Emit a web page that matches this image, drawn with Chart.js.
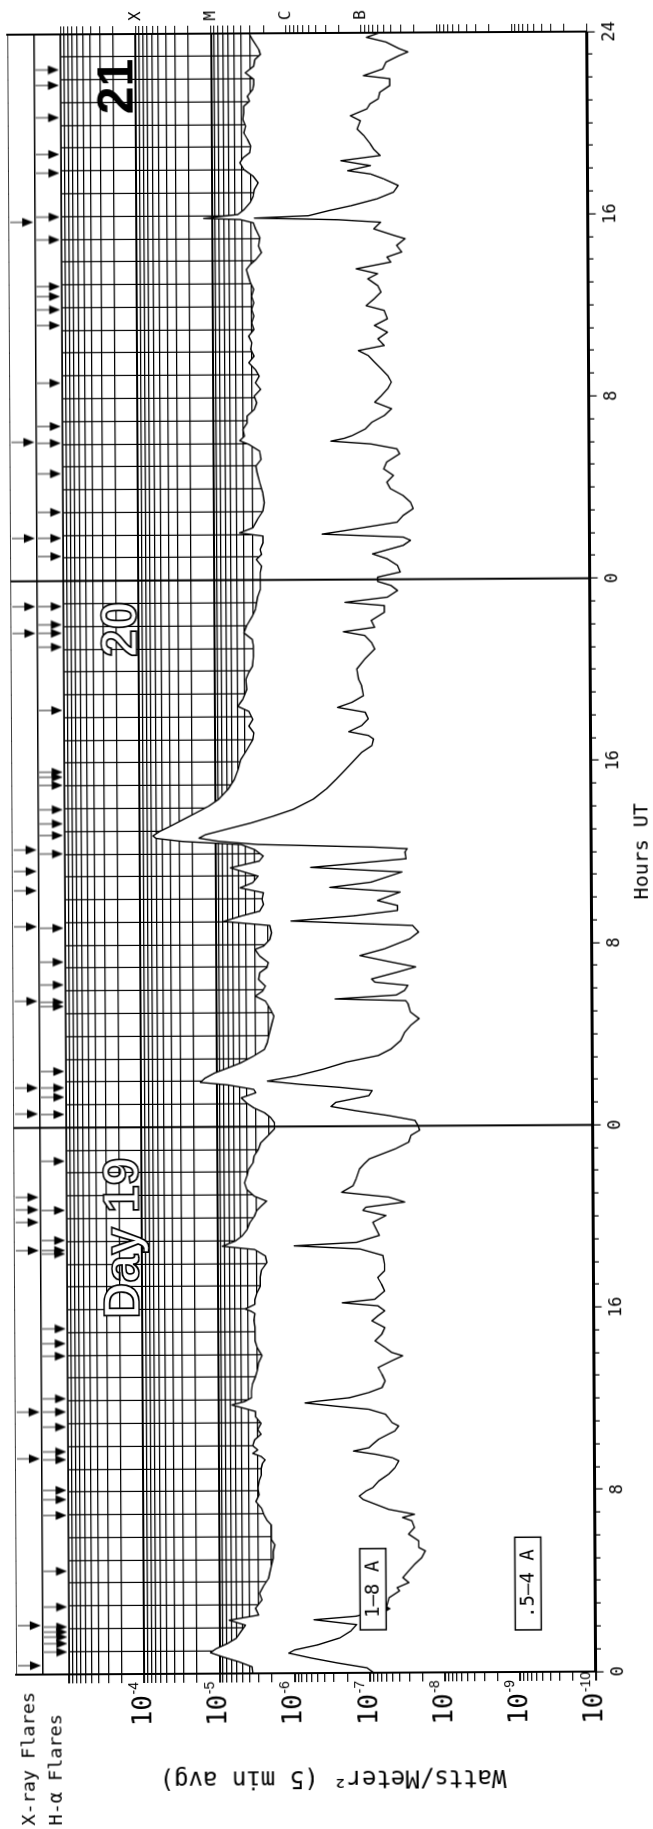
<!DOCTYPE html>
<html>
<head>
<meta charset="utf-8">
<title>GOES X-ray flux, days 19-21</title>
<script src="https://cdn.jsdelivr.net/npm/chart.js@4.4.1/dist/chart.umd.min.js"></script>
<style>
  html, body { margin: 0; padding: 0; background: #fff; }
  body { width: 653px; height: 1829px; overflow: hidden; position: relative; }
  /* the sheet is printed slightly askew */
  #sheet { position: absolute; left: 0; top: 0; width: 653px; height: 1829px;
           transform-origin: 326.5px 914.5px; transform: rotate(-0.31deg); }
  /* the plot is laid out landscape and turned onto the portrait page */
  #plate { position: absolute; left: 0; top: 0; width: 1829px; height: 653px;
           transform-origin: 0 0; transform: translateY(1829px) rotate(-90deg); }
  canvas { display: block; }
</style>
</head>
<body>
<div id="sheet"><div id="plate"><canvas id="goes" width="1829" height="653"></canvas></div></div>
<script>
// Hours are counted from 00 UT on day 19 (0 .. 72).

// 1-8 Angstrom channel, W/m^2
const longHours = [
  0.00, 0.29, 0.51, 0.73, 0.92, 1.10, 1.32, 1.54, 1.83, 2.12,
  2.34, 2.56, 2.86, 3.22, 3.51, 3.81, 4.17, 4.47, 4.76, 5.05,
  5.34, 5.64, 5.86, 6.22, 6.51, 6.73, 6.95, 7.25, 7.54, 7.83,
  8.13, 8.42, 8.71, 9.00, 9.22, 9.37, 9.52, 9.66, 9.81, 10.00,
  10.25, 10.50, 10.70, 10.98, 11.27, 11.50, 11.64, 11.79, 11.93, 12.10,
  12.40, 12.70, 13.00, 13.30, 13.60, 13.95, 14.30, 14.60, 14.90, 15.20,
  15.50, 15.80, 15.90, 16.00, 16.20, 16.40, 16.70, 17.00, 17.40, 17.70,
  18.03, 18.32, 18.61, 18.76, 18.98, 19.20, 19.49, 19.78, 20.07, 20.30,
  20.51, 20.73, 20.95, 21.24, 21.54, 21.83, 22.12, 22.42, 22.71, 23.00,
  23.29, 23.59, 23.91, 24.17, 24.39, 24.61, 24.83, 25.05, 25.27, 25.49,
  25.64, 25.84, 25.96, 26.15, 26.37, 26.59, 26.81, 27.10, 27.39, 27.68,
  27.98, 28.27, 28.56, 28.85, 29.15, 29.51, 29.73, 29.95, 30.17, 30.46,
  30.76, 30.98, 31.20, 31.49, 31.78, 31.93, 32.22, 32.51, 32.83, 33.02,
  33.24, 33.46, 33.76, 33.98, 34.27, 34.49, 34.71, 35.00, 35.37, 35.66,
  35.88, 36.17, 36.39, 36.54, 36.68, 36.79, 36.98, 37.20, 37.49, 37.78,
  38.08, 38.37, 38.81, 39.25, 39.68, 40.12, 40.56, 41.00, 41.29, 41.59,
  41.88, 42.24, 42.46, 42.76, 43.20, 43.64, 43.93, 44.22, 44.66, 45.10,
  45.39, 45.68, 45.98, 46.41, 46.71, 47.00, 47.29, 47.59, 47.91, 48.32,
  48.61, 48.90, 49.12, 49.34, 49.63, 49.93, 50.07, 50.29, 50.66, 51.02,
  51.39, 51.83, 52.27, 52.71, 53.00, 53.29, 53.66, 53.95, 54.12, 54.32,
  54.61, 54.90, 55.20, 55.49, 55.78, 56.07, 56.37, 56.66, 56.95, 57.24,
  57.54, 57.83, 58.12, 58.42, 58.71, 59.00, 59.29, 59.59, 59.88, 60.17,
  60.46, 60.76, 61.05, 61.34, 61.63, 61.85, 62.07, 62.37, 62.66, 63.02,
  63.39, 63.68, 63.83, 63.89, 64.05, 64.27, 64.56, 64.85, 65.15, 65.44,
  65.73, 66.02, 66.32, 66.54, 66.76, 67.05, 67.34, 67.63, 67.93, 68.22,
  68.51, 68.80, 69.02, 69.24, 69.54, 69.76, 69.98, 70.27, 70.56, 70.85,
  71.07, 71.29, 71.73, 72.00
];
const longFlux = [
  3.6e-6, 3.7e-6, 5.5e-6, 9.0e-6, 1.32e-5, 1.10e-5, 7.8e-6, 6.0e-6, 5.2e-6, 4.5e-6,
  7.4e-6, 3.0e-6, 3.3e-6, 2.7e-6, 2.9e-6, 2.6e-6, 2.2e-6, 2.1e-6, 2.0e-6, 1.9e-6,
  1.9e-6, 1.8e-6, 2.0e-6, 2.0e-6, 2.0e-6, 2.3e-6, 2.5e-6, 2.7e-6, 3.2e-6, 2.9e-6,
  3.0e-6, 2.9e-6, 2.7e-6, 2.7e-6, 2.6e-6, 2.4e-6, 2.7e-6, 3.5e-6, 3.0e-6, 3.5e-6,
  3.3e-6, 2.7e-6, 3.0e-6, 2.7e-6, 3.2e-6, 3.2e-6, 4.5e-6, 6.6e-6, 4.5e-6, 3.6e-6,
  3.6e-6, 3.5e-6, 3.2e-6, 3.0e-6, 2.9e-6, 2.6e-6, 3.0e-6, 3.2e-6, 3.2e-6, 3.2e-6,
  3.3e-6, 3.2e-6, 3.6e-6, 4.3e-6, 3.2e-6, 3.2e-6, 3.0e-6, 2.7e-6, 2.7e-6, 2.6e-6,
  2.2e-6, 2.3e-6, 3.2e-6, 8.6e-6, 5.8e-6, 4.7e-6, 4.0e-6, 3.7e-6, 3.2e-6, 3.0e-6,
  2.6e-6, 2.2e-6, 3.2e-6, 4.0e-6, 4.3e-6, 4.0e-6, 3.8e-6, 3.3e-6, 3.2e-6, 2.8e-6,
  2.6e-6, 2.1e-6, 1.7e-6, 1.7e-6, 1.9e-6, 2.3e-6, 3.2e-6, 4.0e-6, 4.7e-6, 3.0e-6,
  3.2e-6, 7.0e-6, 1.64e-5, 1.41e-5, 1.05e-5, 7.0e-6, 4.7e-6, 3.2e-6, 2.3e-6, 2.1e-6,
  2.0e-6, 1.9e-6, 1.8e-6, 1.7e-6, 1.9e-6, 2.2e-6, 3.0e-6, 2.4e-6, 2.2e-6, 2.7e-6,
  2.6e-6, 2.1e-6, 2.0e-6, 2.6e-6, 3.0e-6, 2.3e-6, 1.9e-6, 1.8e-6, 1.9e-6, 7.8e-6,
  4.7e-6, 2.6e-6, 2.3e-6, 2.4e-6, 2.3e-6, 4.7e-6, 3.2e-6, 2.7e-6, 6.3e-6, 2.6e-6,
  2.3e-6, 3.0e-6, 4.5e-6, 2.7e-5, 6.1e-5, 6.7e-5, 5.5e-5, 4.0e-5, 2.7e-5, 1.82e-5,
  1.22e-5, 9.0e-6, 6.7e-6, 5.5e-6, 4.9e-6, 4.5e-6, 3.7e-6, 3.1e-6, 3.0e-6, 3.5e-6,
  3.1e-6, 3.5e-6, 4.9e-6, 4.2e-6, 3.7e-6, 3.8e-6, 3.5e-6, 3.1e-6, 3.0e-6, 3.0e-6,
  3.1e-6, 4.0e-6, 3.7e-6, 3.1e-6, 2.8e-6, 2.7e-6, 2.6e-6, 2.4e-6, 2.4e-6, 2.4e-6,
  2.3e-6, 2.7e-6, 2.3e-6, 2.4e-6, 2.2e-6, 2.2e-6, 4.5e-6, 3.0e-6, 2.6e-6, 2.2e-6,
  2.1e-6, 2.2e-6, 2.4e-6, 2.6e-6, 2.7e-6, 2.3e-6, 2.4e-6, 3.3e-6, 4.4e-6, 3.8e-6,
  4.0e-6, 3.5e-6, 3.5e-6, 2.8e-6, 2.6e-6, 2.8e-6, 2.3e-6, 2.7e-6, 2.4e-6, 2.7e-6,
  3.3e-6, 2.8e-6, 3.1e-6, 3.0e-6, 3.3e-6, 2.8e-6, 3.0e-6, 2.8e-6, 3.0e-6, 2.8e-6,
  3.0e-6, 2.8e-6, 3.1e-6, 3.3e-6, 3.5e-6, 3.1e-6, 2.6e-6, 2.2e-6, 2.4e-6, 2.3e-6,
  2.6e-6, 2.8e-6, 4.2e-6, 1.28e-5, 4.5e-6, 3.7e-6, 3.1e-6, 2.8e-6, 2.7e-6, 2.4e-6,
  2.8e-6, 3.7e-6, 4.2e-6, 3.8e-6, 3.1e-6, 3.0e-6, 3.3e-6, 3.7e-6, 3.5e-6, 3.8e-6,
  3.7e-6, 3.7e-6, 3.1e-6, 3.3e-6, 2.8e-6, 2.7e-6, 2.7e-6, 3.5e-6, 2.7e-6, 2.6e-6,
  2.2e-6, 2.3e-6, 2.8e-6, 3.1e-6
];

// 0.5-4 Angstrom channel, W/m^2
const shortHours = [
  0.00, 0.22, 0.44, 0.66, 0.88, 1.02, 1.24, 1.54, 1.83, 2.12,
  2.34, 2.49, 2.86, 3.29, 3.59, 3.73, 3.95, 4.17, 4.47, 4.76,
  5.05, 5.34, 5.49, 5.78, 6.08, 6.37, 6.66, 6.81, 6.95, 7.17,
  7.39, 7.61, 7.76, 7.98, 8.13, 8.42, 8.71, 9.00, 9.30, 9.44,
  9.59, 9.74, 9.88, 10.03, 10.25, 10.47, 10.61, 10.83, 10.98, 11.20,
  11.35, 11.57, 11.71, 11.86, 11.93, 12.08, 12.30, 12.52, 12.81, 13.10,
  13.40, 13.69, 13.91, 14.06, 14.28, 14.57, 14.86, 15.15, 15.45, 15.67,
  15.89, 16.11, 16.25, 16.40, 16.76, 17.06, 17.35, 17.64, 17.94, 18.32,
  18.61, 18.76, 18.90, 19.20, 19.49, 19.78, 20.07, 20.30, 20.44, 20.66,
  20.88, 21.10, 21.39, 21.68, 22.12, 22.34, 22.56, 23.00, 23.29, 23.59,
  23.81, 24.02, 24.24, 24.46, 24.68, 24.87, 25.05, 25.34, 25.56, 25.71,
  25.85, 26.00, 26.22, 26.51, 26.81, 27.10, 27.39, 27.76, 28.12, 28.41,
  28.71, 29.00, 29.37, 29.50, 29.59, 29.75, 29.95, 30.17, 30.32, 30.46,
  30.76, 30.98, 31.20, 31.49, 31.78, 32.22, 32.51, 32.80, 33.02, 33.24,
  33.46, 33.68, 33.90, 34.27, 34.49, 34.71, 35.15, 35.37, 35.73, 36.03,
  36.17, 36.25, 36.39, 36.54, 36.68, 36.83, 37.05, 37.34, 37.64, 37.93,
  38.37, 38.81, 39.25, 39.68, 40.12, 40.42, 40.71, 41.00, 41.15, 41.32,
  41.59, 41.88, 42.17, 42.39, 42.61, 42.90, 43.34, 43.64, 44.07, 44.51,
  44.95, 45.24, 45.54, 45.71, 45.90, 46.20, 46.56, 46.85, 47.00, 47.22,
  47.51, 47.73, 47.91, 48.10, 48.32, 48.61, 48.90, 49.12, 49.49, 49.71,
  49.85, 50.00, 50.15, 50.51, 50.80, 51.10, 51.39, 51.68, 51.98, 52.27,
  52.56, 52.85, 53.15, 53.51, 53.73, 53.95, 54.08, 54.20, 54.32, 54.61,
  54.90, 55.20, 55.49, 55.78, 56.07, 56.37, 56.66, 56.95, 57.24, 57.54,
  57.83, 58.05, 58.27, 58.56, 58.85, 59.15, 59.44, 59.81, 60.02, 60.32,
  60.61, 60.90, 61.20, 61.42, 61.64, 61.93, 62.15, 62.37, 62.66, 62.95,
  63.10, 63.39, 63.68, 63.80, 63.89, 63.98, 64.20, 64.41, 64.71, 65.00,
  65.29, 65.59, 65.80, 65.95, 66.17, 66.24, 66.39, 66.61, 66.90, 67.12,
  67.49, 67.78, 68.14, 68.36, 68.66, 68.88, 69.10, 69.39, 69.68, 69.98,
  70.12, 70.41, 70.71, 71.00, 71.15, 71.29, 71.59, 71.80, 72.00
];
const shortFlux = [
  8.9e-8, 1.1e-7, 2.7e-7, 6.0e-7, 1.2e-6, 1.0e-6, 4.9e-7, 2.5e-7, 1.8e-7, 1.5e-7,
  5.5e-7, 1.5e-7, 6.0e-8, 5.5e-8, 4.0e-8, 4.3e-8, 3.0e-8, 3.6e-8, 3.0e-8, 2.5e-8,
  2.0e-8, 1.8e-8, 2.2e-8, 2.2e-8, 3.0e-8, 2.5e-8, 2.7e-8, 3.6e-8, 2.5e-8, 5.5e-8,
  8.1e-8, 1.2e-7, 1.35e-7, 1.1e-7, 8.9e-8, 7.4e-8, 5.5e-8, 4.5e-8, 4.0e-8, 4.9e-8,
  8.1e-8, 1.6e-7, 1.0e-7, 8.9e-8, 7.4e-8, 5.5e-8, 4.5e-8, 4.0e-8, 4.9e-8, 5.5e-8,
  6.0e-8, 1.0e-7, 2.7e-7, 7.0e-7, 4.9e-7, 1.8e-7, 1.0e-7, 6.6e-8, 6.0e-8, 6.6e-8,
  7.4e-8, 4.9e-8, 3.5e-8, 4.9e-8, 6.0e-8, 8.1e-8, 6.6e-8, 6.0e-8, 8.9e-8, 7.4e-8,
  6.0e-8, 7.4e-8, 2.2e-7, 8.1e-8, 6.0e-8, 6.6e-8, 7.4e-8, 6.0e-8, 6.0e-8, 6.3e-8,
  1.27e-7, 9.5e-7, 1.41e-7, 7.0e-8, 7.7e-8, 8.5e-8, 5.7e-8, 1.15e-7, 1.05e-7, 3.2e-8,
  5.2e-8, 2.2e-7, 1.55e-7, 1.41e-7, 1.27e-7, 1.1e-7, 9.4e-8, 4.2e-8, 2.8e-8, 2.6e-8,
  2.0e-8, 2.1e-8, 2.3e-8, 5.2e-8, 1.41e-7, 3.0e-7, 2.6e-7, 9.4e-8, 8.5e-8, 2.3e-7,
  7.7e-7, 2.1e-6, 8.6e-7, 3.8e-7, 1.9e-7, 7.0e-8, 4.7e-8, 3.5e-8, 3.1e-8, 2.6e-8,
  2.0e-8, 2.6e-8, 2.8e-8, 3.0e-8, 2.6e-7, 4.0e-8, 3.1e-8, 2.8e-8, 7.7e-8, 8.5e-8,
  3.8e-8, 2.2e-8, 4.7e-8, 1.21e-7, 5.7e-8, 2.6e-8, 2.0e-8, 2.4e-8, 9.9e-7, 1.41e-7,
  3.8e-8, 3.8e-8, 7.0e-8, 3.5e-8, 3.0e-7, 8.5e-8, 3.3e-8, 5.4e-7, 2.9e-8, 3.0e-8,
  2.8e-8, 8.1e-8, 2.7e-6, 9.0e-6, 1.64e-5, 1.35e-5, 7.4e-6, 3.3e-6, 1.64e-6, 9.0e-7,
  4.9e-7, 3.3e-7, 2.4e-7, 1.8e-7, 1.34e-7, 1.1e-7, 8.1e-8, 7.7e-8, 9.0e-8, 1.64e-7,
  1.1e-7, 9.0e-8, 9.9e-8, 2.3e-7, 1.48e-7, 1.04e-7, 1.1e-7, 1.21e-7, 1.27e-7, 9.9e-8,
  7.3e-8, 8.1e-8, 9.9e-8, 1.9e-7, 7.3e-8, 8.1e-8, 5.4e-8, 5.4e-8, 1.8e-7, 4.9e-8,
  3.6e-8, 4.4e-8, 6.6e-8, 6.6e-8, 3.3e-8, 3.6e-8, 4.9e-8, 7.7e-8, 3.0e-8, 2.4e-8,
  3.0e-8, 3.6e-7, 1.8e-7, 3.6e-8, 3.0e-8, 2.2e-8, 2.4e-8, 3.0e-8, 4.4e-8, 4.9e-8,
  4.0e-8, 5.4e-8, 4.9e-8, 3.3e-8, 3.6e-8, 8.0e-8, 2.7e-7, 1.8e-7, 1.41e-7, 9.4e-8,
  7.7e-8, 5.2e-8, 4.2e-8, 7.0e-8, 5.7e-8, 4.7e-8, 4.2e-8, 4.7e-8, 5.7e-8, 7.0e-8,
  8.5e-8, 1.15e-7, 5.2e-8, 6.3e-8, 4.7e-8, 7.0e-8, 4.7e-8, 5.2e-8, 9.0e-8, 7.0e-8,
  5.7e-8, 6.3e-8, 8.5e-8, 6.3e-8, 1.21e-7, 4.2e-8, 4.7e-8, 3.0e-8, 3.5e-8, 2.7e-8,
  3.8e-8, 7.0e-8, 5.7e-8, 2.1e-7, 2.7e-6, 5.2e-7, 2.8e-7, 1.41e-7, 6.3e-8, 3.8e-8,
  3.3e-8, 5.2e-8, 7.7e-8, 1.55e-7, 7.7e-8, 1.04e-7, 1.9e-7, 5.7e-8, 7.0e-8, 7.7e-8,
  9.4e-8, 1.15e-7, 1.04e-7, 1.41e-7, 8.5e-8, 7.7e-8, 6.0e-8, 5.7e-8, 4.2e-8, 4.2e-8,
  9.4e-8, 5.2e-8, 4.7e-8, 3.1e-8, 2.4e-8, 3.1e-8, 4.7e-8, 8.5e-8, 5.7e-8
];

// Reported flare times (hours)
const xrayFlareHours = [
  0.39, 2.15, 9.47, 11.52, 18.61, 19.85, 20.40, 20.95, 24.61, 25.75,
  29.56, 32.83, 34.41, 35.26, 36.20, 45.71, 46.88, 49.88, 54.10, 63.76
];
const haFlareHours = [
  0.98, 1.35, 1.64, 1.86, 2.08, 2.96, 4.53, 6.98, 7.67, 8.08,
  9.42, 9.77, 10.86, 11.52, 12.10, 13.97, 14.52, 15.17, 18.46, 18.61,
  19.05, 20.37, 22.53, 24.58, 25.34, 25.75, 26.47, 29.32, 29.51, 30.27,
  31.27, 32.76, 36.02, 36.83, 37.34, 37.96, 39.03, 39.39, 39.61, 42.32,
  45.10, 45.71, 46.08, 46.88, 49.08, 49.88, 51.02, 52.71, 54.05, 54.79,
  56.69, 59.22, 59.91, 60.49, 60.93, 62.98, 63.98, 65.91, 66.73, 68.34,
  69.76, 70.44
];

const dayStartHours = [24, 48];
const hourTickLabels = ['0', '8', '16', '0', '8', '16', '0', '8', '16', '24'];
const decadeExponents = [-4, -5, -6, -7, -8, -9, -10];
const classNames = ['X', 'M', 'C', 'B'];
const classFlux = [1e-4, 1e-5, 1e-6, 1e-7];
const flareRowNames = ['H-α Flares', 'X-ray Flares'];

const dayTitles = ['Day 19', '20', '21'];
const dayTitleHours = [19.14, 45.87, 69.7];
const dayTitleFlux = [1.93e-4, 1.86e-4, 1.9e-4];

const bandNames = ['1–8 A', '.5–4 A'];
const bandHours = [3.67, 3.88];
const bandFlux = [9.0e-8, 7.8e-10];

const FLUX_MIN = 1e-10, FLUX_MAX = 1e-3, HOURS = 72;
const MONO = '"DejaVu Sans Mono", monospace';
const INK = '#000';

Chart.defaults.font.family = MONO;
Chart.defaults.color = INK;

function toPoints(xs, ys) {
  const n = Math.min(xs.length, ys.length);
  const out = [];
  for (let i = 0; i < n; i++) out.push({ x: xs[i], y: ys[i] });
  return out;
}

// 1..9 x 10^n ticks across the flux range; decades flagged as major
function logTicks() {
  const t = [];
  for (let e = -10; e <= -4; e++) {
    for (let m = 1; m <= 9; m++) t.push({ value: m * Math.pow(10, e), major: m === 1 });
  }
  t.push({ value: FLUX_MAX, major: true });
  return t;
}

// downward flare marker: thin shaft with a solid head
function arrowGlyph() {
  const c = document.createElement('canvas');
  c.width = 10; c.height = 23;
  const g = c.getContext('2d');
  g.strokeStyle = '#222'; g.lineWidth = 1;
  g.beginPath(); g.moveTo(5, 0); g.lineTo(5, 13); g.stroke();
  g.fillStyle = INK;
  g.beginPath(); g.moveTo(0.5, 12); g.lineTo(9.5, 12); g.lineTo(5, 23); g.closePath(); g.fill();
  return c;
}
const arrow = arrowGlyph();

const lineBase = { pointRadius: 0, pointHoverRadius: 0, borderColor: INK, tension: 0, fill: false, borderJoinStyle: 'round' };

const annotations = {
  id: 'annotations',
  afterDatasetsDraw(chart) {
    const { ctx, scales: { x, y } } = chart;
    ctx.save();
    ctx.font = 'bold 50px "Liberation Sans", Arial, sans-serif';
    ctx.textAlign = 'center';
    ctx.textBaseline = 'alphabetic';
    dayTitles.forEach((txt, i) => {
      const px = x.getPixelForValue(dayTitleHours[i]);
      const py = y.getPixelForValue(dayTitleFlux[i]) + 18;
      if (i < 2) {
        ctx.fillStyle = '#fff';
        ctx.fillText(txt, px, py);
        ctx.lineWidth = 1.7;
        ctx.strokeStyle = INK;
        ctx.strokeText(txt, px, py);
      } else {
        ctx.fillStyle = INK;
        ctx.fillText(txt, px, py);
      }
    });

    ctx.font = '19px ' + MONO;
    ctx.textBaseline = 'middle';
    bandNames.forEach((txt, i) => {
      const px = x.getPixelForValue(bandHours[i]);
      const py = y.getPixelForValue(bandFlux[i]);
      const w = ctx.measureText(txt).width + 24, h = 26;
      ctx.fillStyle = '#fff';
      ctx.fillRect(px - w / 2, py - h / 2, w, h);
      ctx.lineWidth = 1.5;
      ctx.strokeStyle = INK;
      ctx.strokeRect(px - w / 2, py - h / 2, w, h);
      ctx.fillStyle = INK;
      ctx.fillText(txt, px, py + 1);
      if (i === 0) {
        // small pointer on the lower edge of the 1-8 A tag
        const tx = px - w / 2 + 21, ty = py + h / 2;
        ctx.beginPath();
        ctx.moveTo(tx - 3, ty); ctx.lineTo(tx + 3, ty); ctx.lineTo(tx, ty + 5);
        ctx.closePath(); ctx.fill();
      }
    });
    ctx.restore();
  },
  afterDraw(chart) {
    // powers of ten written as raised exponents after the "10" tick labels
    const { ctx } = chart;
    const s = chart.scales.y;
    const xr = s.right - s.options.grid.tickLength - s.options.ticks.padding;
    ctx.save();
    ctx.font = '14px "Liberation Sans", Arial, sans-serif';
    ctx.fillStyle = INK;
    ctx.textAlign = 'left';
    ctx.textBaseline = 'alphabetic';
    decadeExponents.forEach(e => {
      const py = s.getPixelForValue(Math.pow(10, e));
      ctx.fillText(String(e), xr + 0.5, py - 6);
    });
    ctx.restore();
  }
};

new Chart(document.getElementById('goes'), {
  type: 'line',
  data: {
    datasets: [
      { label: 'X-ray flares', data: xrayFlareHours.map(h => ({ x: h, y: 1.5 })), yAxisID: 'yFlare',
        showLine: false, pointStyle: arrow, pointRadius: 5, pointHoverRadius: 5 },
      { label: 'H-α flares', data: haFlareHours.map(h => ({ x: h, y: 0.5 })), yAxisID: 'yFlare',
        showLine: false, pointStyle: arrow, pointRadius: 5, pointHoverRadius: 5 },
      { ...lineBase, label: 'strip divider', data: [{ x: 0, y: 1 }, { x: HOURS, y: 1 }], yAxisID: 'yFlare', borderWidth: 1.5 },
      { ...lineBase, label: 'strip base', data: [{ x: 0, y: 0 }, { x: HOURS, y: 0 }], yAxisID: 'yFlare', borderWidth: 2 },
      { ...lineBase, label: 'day start', yAxisID: 'y', borderWidth: 2, spanGaps: false,
        data: dayStartHours.flatMap(h => [{ x: h, y: FLUX_MIN }, { x: h, y: FLUX_MAX }, { x: h, y: null }]) },
      { ...lineBase, label: 'day start (strips)', yAxisID: 'yFlare', borderWidth: 2, spanGaps: false,
        data: dayStartHours.flatMap(h => [{ x: h, y: 0 }, { x: h, y: 2 }, { x: h, y: null }]) },
      { ...lineBase, label: '.5-4 A', data: toPoints(shortHours, shortFlux), yAxisID: 'y', borderWidth: 1.4 },
      { ...lineBase, label: '1-8 A', data: toPoints(longHours, longFlux), yAxisID: 'y', borderWidth: 1.4,
        fill: 'start', backgroundColor: '#fff' },
      { ...lineBase, label: 'strip ground', data: [{ x: 0, y: 2 }, { x: HOURS, y: 2 }], yAxisID: 'yFlare',
        borderWidth: 1.5, fill: 'start', backgroundColor: '#fff' }
    ]
  },
  options: {
    responsive: false,
    animation: false,
    devicePixelRatio: 1,
    events: [],
    layout: { padding: { left: 5, top: 1.5, right: 0, bottom: 0 } },
    plugins: { legend: { display: false }, tooltip: { enabled: false }, filler: { propagate: false } },
    scales: {
      x: {
        type: 'linear', position: 'bottom', min: 0, max: HOURS,
        afterBuildTicks: s => { s.ticks = Array.from({ length: HOURS + 1 }, (_, h) => ({ value: h })); },
        afterFit: s => { s.height = 61.5; },
        grid: { color: INK, lineWidth: 1.2, tickLength: 8,
                tickBorderDash: c => (c.tick && c.tick.value % 8 === 0) ? [] : [4, 30] },
        border: { display: true, color: INK, width: 3, z: 1 },
        ticks: { autoSkip: false, maxRotation: 0, minRotation: 0, padding: 5, color: INK,
                 font: { family: MONO, size: 17 },
                 callback: v => (v % 8 === 0 ? hourTickLabels[v / 8] : '') },
        title: { display: true, text: 'Hours UT', color: INK,
                 font: { family: MONO, size: 20, lineHeight: 1 }, padding: { top: 0, bottom: 0 } }
      },
      y: {
        type: 'logarithmic', position: 'left', stack: 'frame', stackWeight: 536, weight: 0,
        min: FLUX_MIN, max: FLUX_MAX,
        afterBuildTicks: s => { s.ticks = logTicks(); },
        afterFit: s => { s.width = 151; },
        grid: { color: INK, lineWidth: c => (c.tick && c.tick.major ? 1.9 : 1.2), tickLength: 9 },
        border: { display: true, color: INK, width: 2, z: 1 },
        ticks: { autoSkip: false, padding: 12, color: INK, font: { family: MONO, size: 26, lineHeight: 0.01 },
                 callback: (v, i, ts) => (ts[i].major && v < 2e-4 ? '10' : '') },
        title: { display: true, text: 'Watts/Meter² (5 min avg)', color: INK,
                 font: { family: MONO, size: 24, lineHeight: 1 }, padding: { top: 35, bottom: 0 } }
      },
      yFlare: {
        type: 'linear', position: 'left', stack: 'frame', stackWeight: 54, weight: 1, min: 0, max: 2,
        afterBuildTicks: s => { s.ticks = [{ value: 0.5 }, { value: 1.5 }]; },
        afterFit: s => { s.width = 151; },
        grid: { display: false },
        border: { display: true, color: INK, width: 2, z: 1 },
        ticks: { crossAlign: 'far', padding: 0, color: INK, font: { family: MONO, size: 18.5, lineHeight: 0.01 },
                 callback: v => (v < 1 ? flareRowNames[0] : flareRowNames[1]) }
      },
      yClass: {
        type: 'logarithmic', position: 'right', stack: 'frameR', stackWeight: 536, weight: 1,
        min: FLUX_MIN, max: FLUX_MAX,
        afterBuildTicks: s => { s.ticks = logTicks(); },
        afterFit: s => { s.width = 33; },
        grid: { drawOnChartArea: false, color: INK, lineWidth: 1, tickLength: 8 },
        border: { display: true, color: INK, width: 2, z: 1 },
        ticks: { autoSkip: false, padding: 5, color: INK, font: { family: MONO, size: 16, lineHeight: 0.01 },
                 callback: v => {
                   const k = classFlux.findIndex(f => Math.abs(f - v) / f < 1e-6);
                   return k >= 0 ? classNames[k] : '';
                 } }
      },
      yFlareR: {
        type: 'linear', position: 'right', stack: 'frameR', stackWeight: 54, weight: 0, min: 0, max: 2,
        afterFit: s => { s.width = 33; },
        grid: { display: false },
        border: { display: true, color: INK, width: 2, z: 1 },
        ticks: { display: false }
      }
    }
  },
  plugins: [annotations]
});
</script>
</body>
</html>
